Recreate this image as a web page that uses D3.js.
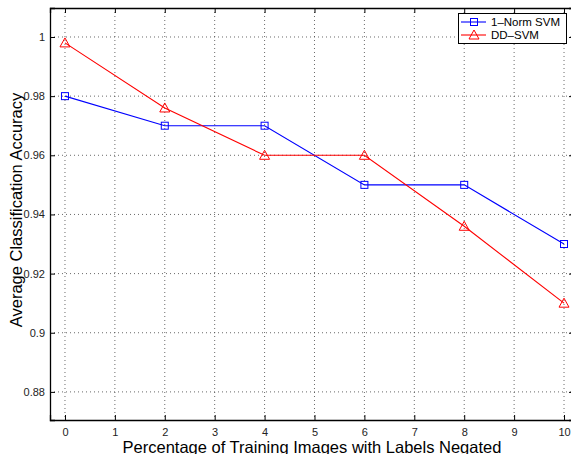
<!DOCTYPE html>
<html>
<head>
<meta charset="utf-8">
<style>
	body { margin: 0; background: #fff; }
	svg { display: block; font-family: "Liberation Sans", Arial, sans-serif; }
</style>
<script src="https://d3js.org/d3.v7.min.js"></script>
</head>
<body>
<svg width="571" height="454"></svg>
<script>
	var pct = [0, 2, 4, 6, 8, 10];
	var normSvm = [0.98, 0.97, 0.97, 0.95, 0.95, 0.93];
	var ddSvm = [0.998, 0.976, 0.96, 0.96, 0.936, 0.91];
	var xTicks = [0, 1, 2, 3, 4, 5, 6, 7, 8, 9, 10];
	var yTicks = [0.88, 0.9, 0.92, 0.94, 0.96, 0.98, 1];

	var svg = d3.select("svg");
	var m = {left: 50, top: 8, right: 574, bottom: 420};

	var x = d3.scaleLinear().domain([-0.3, 10.2]).range([m.left, m.right]);
	var y = d3.scaleLinear().domain([0.8705, 1.0098]).range([m.bottom, m.top]);

	// dotted grid
	var grid = svg.append("g").attr("stroke", "#444").attr("stroke-width", 0.8).attr("stroke-dasharray", "1,3");
	grid.selectAll(".gx").data(xTicks).enter().append("line")
		.attr("x1", function(d){ return x(d); }).attr("x2", function(d){ return x(d); })
		.attr("y1", m.top).attr("y2", m.bottom);
	grid.selectAll(".gy").data(yTicks).enter().append("line")
		.attr("y1", function(d){ return y(d); }).attr("y2", function(d){ return y(d); })
		.attr("x1", m.left).attr("x2", m.right);

	// axes, ticks pointing inward
	svg.append("g").attr("transform", "translate(0," + m.bottom + ")")
		.call(d3.axisBottom(x).tickValues(xTicks).tickSize(-5).tickPadding(8).tickFormat(d3.format("d")));
	svg.append("g").attr("transform", "translate(0," + m.top + ")")
		.call(d3.axisTop(x).tickValues(xTicks).tickSize(-5).tickFormat(""));
	svg.append("g").attr("transform", "translate(" + m.left + ",0)")
		.call(d3.axisLeft(y).tickValues(yTicks).tickSize(-5).tickPadding(5).tickFormat(function(d){ return String(d); }));
	svg.append("g").attr("transform", "translate(" + m.right + ",0)")
		.call(d3.axisRight(y).tickValues(yTicks).tickSize(-5).tickFormat(""));

	svg.selectAll(".domain").attr("stroke", "#000").attr("stroke-width", 1.3);
	svg.selectAll(".tick line").attr("stroke", "#000");
	svg.selectAll(".tick text").attr("font-size", 11).attr("fill", "#222")
		.attr("font-family", "Liberation Sans, Arial, sans-serif");

	var series = [
		{name: "1\u2013Norm SVM", vals: normSvm, color: "#0000ff", mark: "square"},
		{name: "DD\u2013SVM", vals: ddSvm, color: "#ff0000", mark: "triangle"}
	];

	function marker(g, type, color) {
		if (type === "square") {
			g.append("rect").attr("x", -3.5).attr("y", -3.5).attr("width", 7).attr("height", 7)
				.attr("fill", "none").attr("stroke", color).attr("stroke-width", 1);
		} else {
			g.append("path").attr("d", "M0,-5L5,4L-5,4Z")
				.attr("fill", "none").attr("stroke", color).attr("stroke-width", 1);
		}
	}

	var line = d3.line().x(function(d){ return x(d[0]); }).y(function(d){ return y(d[1]); });

	series.forEach(function(s) {
		var pts = pct.map(function(p, i){ return [p, s.vals[i]]; });
		svg.append("path").datum(pts).attr("d", line)
			.attr("fill", "none").attr("stroke", s.color).attr("stroke-width", 1.1);
		pts.forEach(function(p) {
			var g = svg.append("g").attr("transform", "translate(" + x(p[0]) + "," + y(p[1]) + ")");
			marker(g, s.mark, s.color);
		});
	});

	// legend
	var lg = svg.append("g");
	lg.append("rect").attr("x", 458.5).attr("y", 13.5).attr("width", 108).attr("height", 30)
		.attr("fill", "#fff").attr("stroke", "#000").attr("stroke-width", 1);
	series.forEach(function(s, i) {
		var yy = 22 + i * 13;
		lg.append("line").attr("x1", 461).attr("x2", 486).attr("y1", yy).attr("y2", yy)
			.attr("stroke", s.color).attr("stroke-width", 1.1);
		var g = lg.append("g").attr("transform", "translate(474," + yy + ")");
		marker(g, s.mark, s.color);
		lg.append("text").attr("x", 491).attr("y", yy + 4).attr("font-size", 11.5).attr("fill", "#000").text(s.name);
	});

	// axis titles
	svg.append("text").attr("x", 312).attr("y", 453).attr("text-anchor", "middle")
		.attr("font-size", 16.5).attr("fill", "#000").text("Percentage of Training Images with Labels Negated");
	svg.append("text").attr("transform", "translate(22,210) rotate(-90)").attr("text-anchor", "middle")
		.attr("font-size", 16.5).attr("fill", "#000").text("Average Classification Accuracy");
</script>
</body>
</html>
